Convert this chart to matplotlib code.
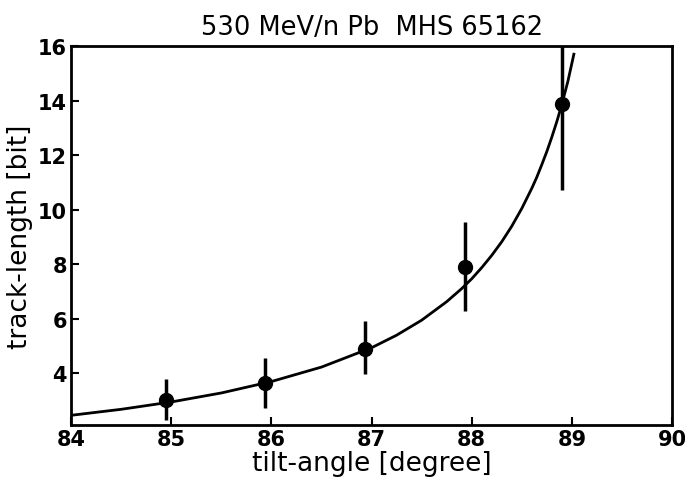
import numpy as np
import matplotlib
matplotlib.use('Agg')
import matplotlib.pyplot as plt

# measured points
angle = [84.95, 85.94, 86.93, 87.93, 88.90]
length = [3.01, 3.64, 4.90, 7.90, 13.88]
err_lo = [0.73, 0.94, 0.95, 1.63, 3.18]
err_hi = [0.79, 0.92, 1.00, 1.64, 2.40]

# fitted curve
curve_x = [84.0, 84.5, 85.0, 85.5, 86.0, 86.5, 87.0, 87.25, 87.5, 87.75,
           87.9, 88.0, 88.1, 88.2, 88.3, 88.4, 88.5, 88.6, 88.65, 88.7,
           88.75, 88.8, 88.85, 88.9, 88.96, 89.02]
curve_y = [2.45, 2.67, 2.94, 3.27, 3.69, 4.22, 4.93, 5.39, 5.94, 6.62,
           7.10, 7.46, 7.87, 8.32, 8.82, 9.39, 10.04, 10.78, 11.19, 11.65,
           12.13, 12.66, 13.23, 13.86, 14.7, 15.7]

xticks = [84, 85, 86, 87, 88, 89, 90]
yticks = [4, 6, 8, 10, 12, 14, 16]

plt.rc('font', family='DejaVu Sans')

fig = plt.figure(figsize=(6.85, 4.85), dpi=100)
ax = fig.add_axes([0.104, 0.122, 0.877, 0.781])

ax.plot(curve_x, curve_y, '-k', lw=2)
ax.errorbar(angle, length, yerr=[err_lo, err_hi], fmt='o', color='k',
            ms=10, elinewidth=2.5, capsize=0)

ax.set_xlim(84, 90)
ax.set_ylim(2.1, 16)
ax.set_xticks(xticks)
ax.set_yticks(yticks)
ax.tick_params(direction='in', length=6, width=1.5, labelsize=15, pad=3)
for lab in ax.get_xticklabels() + ax.get_yticklabels():
    lab.set_fontweight('semibold')
for s in ax.spines.values():
    s.set_linewidth(2)

ax.set_xlabel('tilt-angle [degree]', fontsize=19, labelpad=1)
ax.set_ylabel('track-length [bit]', fontsize=19, labelpad=4)
ax.set_title('530 MeV/n Pb  MHS 65162', fontsize=18.5, pad=9)

plt.savefig('out.png', dpi=100)
plt.close(fig)
